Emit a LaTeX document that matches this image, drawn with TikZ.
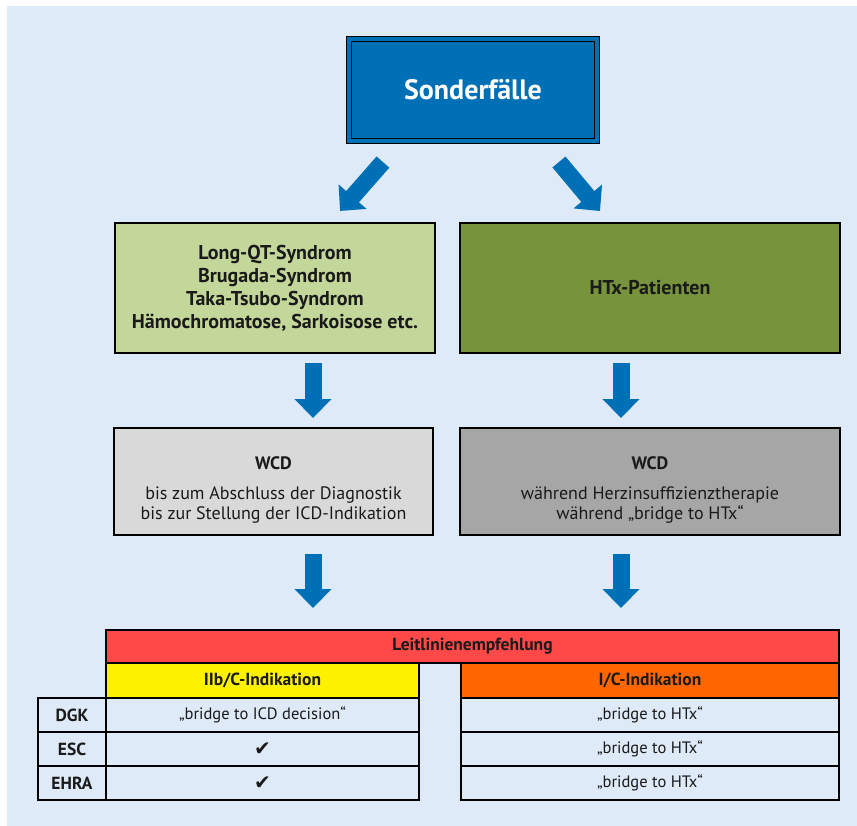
\documentclass[tikz,border=0pt]{standalone}
\usepackage{fontspec}
\setmainfont{PT Sans}
\newfontfamily\checkfont{DejaVu Sans}
\usetikzlibrary{arrows.meta}

\definecolor{bgblue}{HTML}{DEEAF8}
\definecolor{mainblue}{HTML}{0070B6}
\definecolor{lightgreen}{HTML}{C4D79B}
\definecolor{darkgreen}{HTML}{77933C}
\definecolor{lightgray}{HTML}{D9D9D9}
\definecolor{midgray}{HTML}{A6A6A6}
\definecolor{headred}{HTML}{FF4848}
\definecolor{headorange}{HTML}{FF6600}
\definecolor{textdark}{HTML}{1A1A1A}

\begin{document}
\begin{tikzpicture}[x=1pt, y=-1pt,
  box/.style={draw=black, line width=2pt, anchor=north west, inner sep=0pt, outer sep=0pt,
    align=center, text=textdark, font=\fontsize{20}{23}\selectfont\bfseries},
  wcdbox/.style={box, font=\fontsize{18}{20}\selectfont},
  cell/.style={draw=black, line width=2pt, anchor=north west, inner sep=0pt, outer sep=0pt,
    text=textdark, font=\fontsize{16.5}{19}\selectfont},
  headcell/.style={cell, font=\fontsize{17.5}{19}\selectfont\bfseries},
  fatarrow/.style={draw=mainblue, line width=17pt, -{Triangle[length=19pt, width=36pt]}}]

  % background
  \useasboundingbox (0,0) rectangle (857,826);
  \fill[bgblue] (7,6) rectangle (857,826);

  % top box
  \node[draw=black, line width=1.5pt, double=mainblue, double distance=3.5pt, fill=mainblue,
    minimum width=248pt, minimum height=102pt, inner sep=0pt, outer sep=0pt,
    text=white, font=\fontsize{28}{30}\selectfont\bfseries] (top) at (473,90) {Sonderfälle};

  % disease groups
  \node[box, fill=lightgreen, minimum width=320pt, minimum height=130pt]
    (lqt) at (115,223) {Long-QT-Syndrom\\Brugada-Syndrom\\Taka-Tsubo-Syndrom\\Hämochromatose, Sarkoisose etc.};
  \node[box, fill=darkgreen, minimum width=380pt, minimum height=130pt]
    (htx) at (460,223) {HTx-Patienten};

  % WCD boxes
  \node[wcdbox, fill=lightgray, minimum width=319pt, minimum height=107pt]
    (wcdl) at (114,428) {\rule{0pt}{30pt}\textbf{WCD}\\[10pt]bis zum Abschluss der Diagnostik\\bis zur Stellung der ICD-Indikation};
  \node[wcdbox, fill=midgray, minimum width=380pt, minimum height=107pt]
    (wcdr) at (460,428) {\rule{0pt}{30pt}\textbf{WCD}\\[10pt]während Herzinsuffizienztherapie\\während „bridge to HTx“};

  % table
  \node[headcell, fill=headred, minimum width=733pt, minimum height=33pt] (lead) at (106,630) {Leitlinienempfehlung};
  \node[headcell, fill=yellow, minimum width=313pt, minimum height=35pt] (iib) at (106,663) {IIb/C-Indikation};
  \node[headcell, fill=headorange, minimum width=378pt, minimum height=35pt] (ic) at (461,663) {I/C-Indikation};
  \foreach \y/\org/\val [count=\i] in {698/DGK/{„bridge to ICD decision“},
                                       732/ESC/{\checkfont\fontsize{20}{20}\selectfont ✔},
                                       766/EHRA/{\checkfont\fontsize{20}{20}\selectfont ✔}} {
    \node[headcell, minimum width=68pt, minimum height=34pt] (org\i) at (38,\y) {\org};
    \node[cell, minimum width=313pt, minimum height=34pt] (lc\i) at (106,\y) {\val};
    \node[cell, minimum width=378pt, minimum height=34pt] (rc\i) at (461,\y) {„bridge to HTx“};
  }

  % arrows
  \draw[fatarrow, shorten <=28pt, shorten >=16pt] ([xshift=52.4pt]top.south west) -- ([xshift=214.5pt]lqt.north west);
  \draw[fatarrow, shorten <=27.4pt, shorten >=15.6pt] ([xshift=-55.6pt]top.south east) -- ([xshift=150pt]htx.north west);
  \draw[fatarrow, shorten <=10pt, shorten >=10pt] ([xshift=38pt]lqt.south) -- ([xshift=39.5pt]wcdl.north);
  \draw[fatarrow, shorten <=10pt, shorten >=10pt] ([xshift=-29pt]htx.south) -- ([xshift=-29pt]wcdr.north);
  \draw[fatarrow, shorten <=19pt, shorten >=22pt] ([xshift=39.5pt]wcdl.south) -- ([xshift=-159.5pt]lead.north);
  \draw[fatarrow, shorten <=19pt, shorten >=22pt] ([xshift=-29pt]wcdr.south) -- ([xshift=148.5pt]lead.north);
\end{tikzpicture}
\end{document}
